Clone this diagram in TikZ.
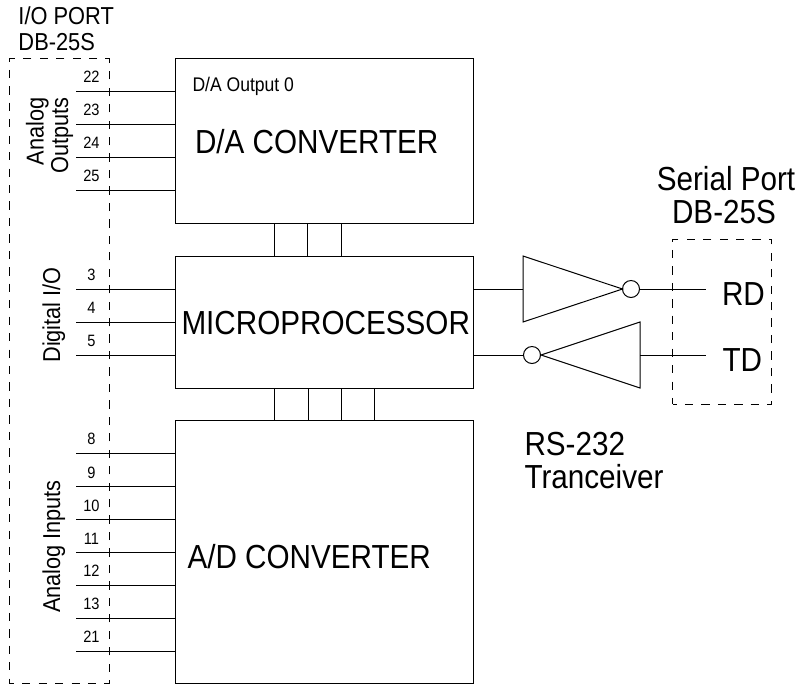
\documentclass[tikz,border=0pt]{standalone}
\usepackage{fontspec}
\setmainfont[FakeStretch=0.89]{Liberation Sans}
\begin{document}
\begin{tikzpicture}[x=0.75pt,y=-0.75pt,line width=0.75pt,
  block/.style={draw,rectangle,inner sep=0pt,minimum width=223.5pt},
  port/.style={draw,dash pattern=on 6.2pt off 6.14pt,dash phase=3.1pt,rectangle,inner sep=0pt,minimum width=74.5pt},
  bubble/.style={draw,circle,inner sep=0pt,minimum size=12.75pt},
  big/.style={anchor=base west,inner sep=0pt,font=\fontsize{25}{25}\selectfont},
  mid/.style={anchor=base west,inner sep=0pt,font=\fontsize{18.4}{18.4}\selectfont},
  pin/.style={anchor=base,inner sep=0pt,font=\fontsize{12.3}{12.3}\selectfont},
  small/.style={anchor=base west,inner sep=0pt,font=\fontsize{14.8}{14.8}\selectfont},
  side/.style={anchor=base,rotate=90,inner sep=0pt,font=\fontsize{18.3}{18.3}\selectfont}]
\useasboundingbox (0,0) rectangle (800,687);
% blocks
\node[block,minimum height=123.75pt] (da) at (324.25,140.75) {};
\node[block,minimum height=99pt] (mp) at (324.25,322) {};
\node[block,minimum height=197.25pt] (ad) at (324.25,552) {};
% ports
\node[port,minimum height=468.75pt] (io) at (59.5,371) {};
\node[port,minimum height=123.75pt] (sp) at (722.25,321.75) {};
% pin wires
\foreach \n/\y in {22/91,23/124,24/157,25/190,3/289,4/322,5/355,8/453,9/486.5,10/519.5,11/552.5,12/585,13/618,21/651}{
  \coordinate (w\n) at (76,\y);
  \node[pin] (p\n) at (91.5,\y-8.5) {\n};
}
\foreach \n in {22,23,24,25}{\draw (w\n) -- (w\n -| da.west);}
\foreach \n in {3,4,5}{\draw (w\n) -- (w\n -| mp.west);}
\foreach \n in {8,9,10,11,12,13,21}{\draw (w\n) -- (w\n -| ad.west);}
% buses
\foreach \x in {274.5,307.5,341}{
  \coordinate (b) at (\x,223);
  \draw (b) -- (b |- mp.north);
}
\foreach \x in {274.5,308,341,374}{
  \coordinate (b) at (\x,388);
  \draw (b) -- (b |- ad.north);
}
% inverters
\coordinate (aIn) at (523,289);
\coordinate (aTop) at (523,256);
\coordinate (aBot) at (523,322);
\coordinate (aTip) at (622.5,289);
\draw (aTop) -- (aTip) -- (aBot) -- cycle;
\node[bubble] (aC) at (631,289) {};
\coordinate (rdEnd) at (706,289);
\draw (aIn -| mp.east) -- (aIn);
\draw (aC.east) -- (rdEnd);
\coordinate (bIn) at (640,355);
\coordinate (bTop) at (640,322);
\coordinate (bBot) at (640,388);
\coordinate (bTip) at (541,355);
\draw (bTop) -- (bTip) -- (bBot) -- cycle;
\node[bubble] (bC) at (532,355) {};
\coordinate (tdEnd) at (706,355);
\draw (bIn -| mp.east) -- (bC.west);
\draw (bIn) -- (tdEnd);
% labels
\node[big] (tda) at (194.5,153) {D/A CONVERTER};
\node[big] (tmp) at (181,334) {MICROPROCESSOR};
\node[big] (tad) at (187,568) {A/D CONVERTER};
\node[small] (t0) at (192,91.5) {D/A Output 0};
\node[big] (trd) at (721.5,305) {RD};
\node[big] (ttd) at (722,371) {TD};
\node[big,anchor=base] (ts) at (726,190) {Serial Port};
\node[big,anchor=base] (tdb) at (724,223) {DB-25S};
\node[big] (trs) at (524,455) {RS-232};
\node[big] (ttr) at (524,488) {Tranceiver};
\node[mid] (tio) at (18,24.5) {I/O PORT};
\node[mid] (tdb2) at (18,50) {DB-25S};
\node[side] (tao1) at (43.5,131.5) {Analog};
\node[side] (tao2) at (68,135.5) {Outputs};
\node[side] (tdio) at (60,315) {Digital I/O};
\node[side] (tai) at (60,546.5) {Analog Inputs};
\end{tikzpicture}
\end{document}
